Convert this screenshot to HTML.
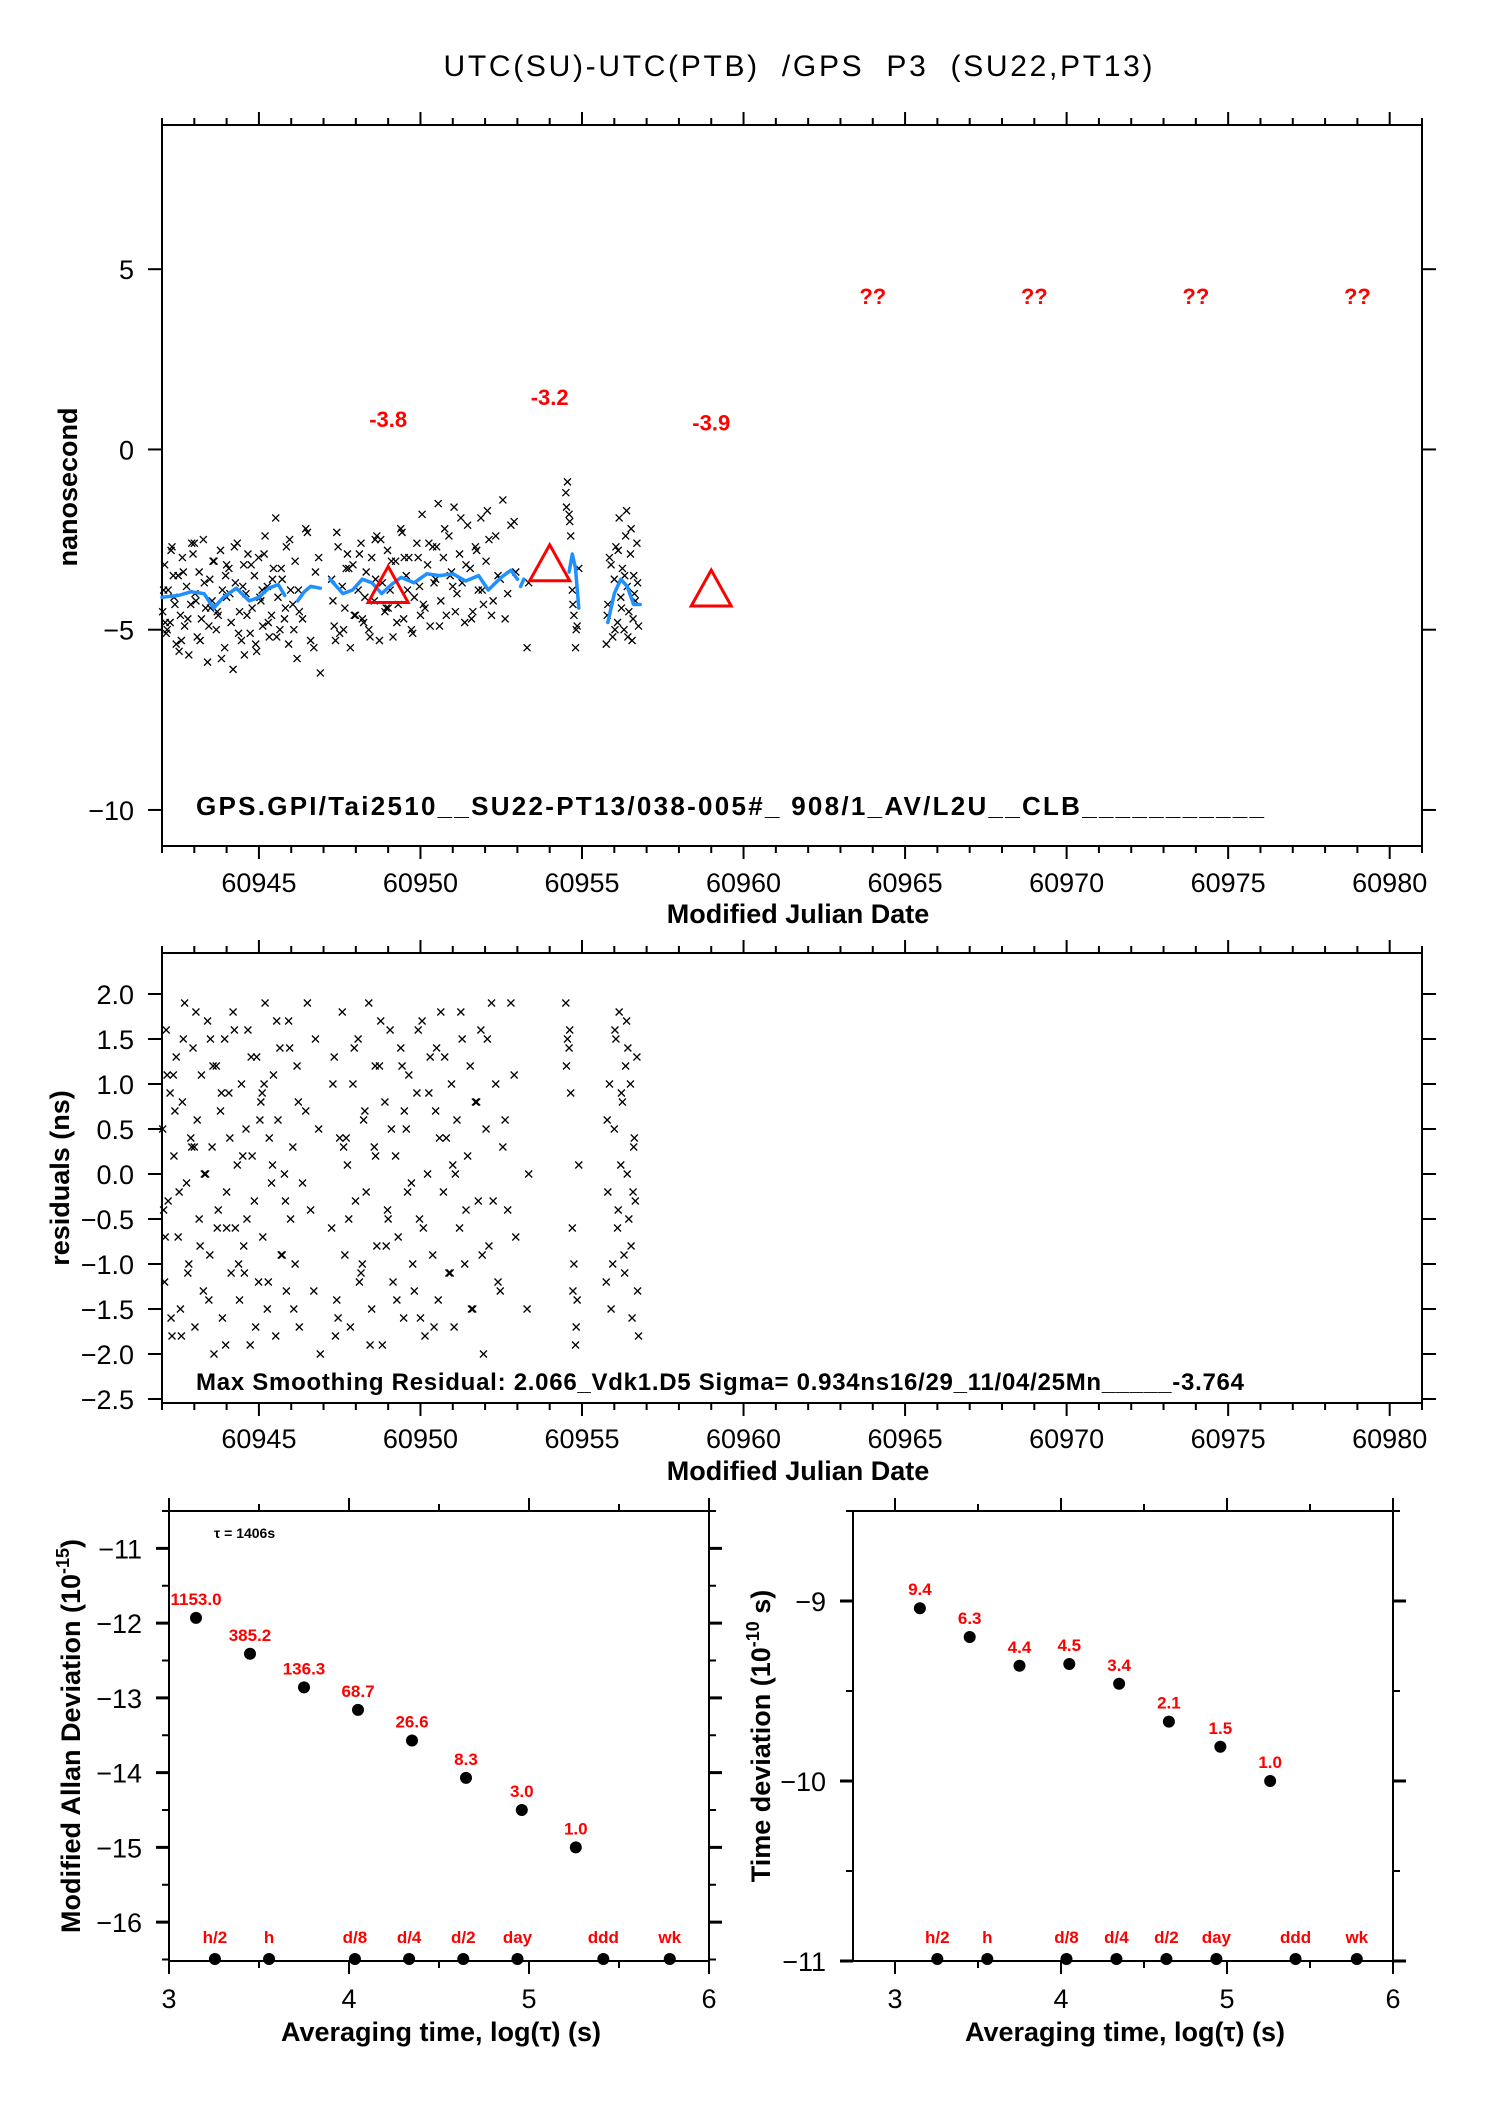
<!DOCTYPE html>
<html><head><meta charset="utf-8"><style>
html,body{margin:0;padding:0;background:#fff;}
svg{display:block;font-family:"Liberation Sans",sans-serif;}
</style></head><body>
<svg id="chart" width="1488" height="2105" viewBox="0 0 1488 2105" xmlns="http://www.w3.org/2000/svg">
<rect width="1488" height="2105" fill="#fff"/>
<text x="798" y="76" font-size="30" text-anchor="middle" textLength="709" xml:space="preserve">UTC(SU)-UTC(PTB)  /GPS  P3  (SU22,PT13)</text>
<g id="g-top"></g>
<g id="g-mid"></g>
<g id="g-adev"></g>
<g id="g-tdev"></g>
</svg>
<script>
// ---- data (MJD offsets from 60940) ----
const mjdBase = 60940;
const obsDays = [2.02,2.08,2.13,2.19,2.25,2.31,2.37,2.44,2.5,2.57,2.63,2.7,2.76,2.83,2.89,2.96,3.02,3.09,3.15,3.22,3.28,3.35,3.41,3.48,3.55,3.61,3.68,3.74,3.81,3.87,3.94,4.0,4.07,4.14,4.2,4.27,4.33,4.4,4.46,4.53,4.6,4.66,4.73,4.79,4.86,4.93,4.99,5.06,5.12,5.19,5.26,5.32,5.39,5.45,5.52,5.59,5.65,5.72,5.79,5.85,5.92,5.98,6.05,6.12,6.18,6.25,6.45,6.6,6.75,6.9,
7.25,7.33,7.41,7.5,7.58,7.66,7.74,7.83,7.91,7.99,8.07,8.16,8.24,8.32,8.4,8.49,8.57,8.65,8.73,8.82,8.9,8.98,9.06,9.15,9.23,9.31,9.39,9.48,9.56,9.64,9.72,9.81,9.89,9.97,10.05,10.14,10.22,10.3,10.38,10.47,10.55,10.63,10.71,10.8,10.88,10.96,11.04,11.13,11.21,11.29,11.37,11.46,11.54,11.62,11.7,11.79,11.87,11.95,12.03,12.12,12.2,12.4,12.55,12.7,12.9,
13.3,13.35,14.5,14.55,14.6,14.65,14.7,14.75,14.8,14.85,14.9,
15.75,15.8,15.85,15.95,16.0,16.05,16.1,16.15,16.2,16.25,16.3,16.35,16.4,16.45,16.5,16.55,16.6,16.65,16.7,16.75,
2.05,2.16,2.28,2.4,2.53,2.66,2.8,2.92,3.05,3.18,3.31,3.45,3.58,3.71,3.84,3.97,4.1,4.24,4.37,4.5,4.63,4.76,4.9,5.03,5.16,5.29,5.42,5.55,5.69,5.82,5.95,6.08,6.22,6.35,6.5,6.7,6.85,2.1,2.35,2.6,3.0,3.5,4.0,4.55,5.1,
7.29,7.45,7.62,7.78,7.95,8.11,8.28,8.44,8.61,8.77,8.94,9.1,9.27,9.43,9.6,9.76,9.93,10.09,10.26,10.42,10.59,10.75,10.92,11.08,11.25,11.41,11.58,11.74,11.91,12.07,12.25,12.33,12.47,12.62,12.8,12.95,7.37,7.7,8.2,8.6,9.0,9.5,10.0,10.5,11.0,
15.78,15.9,16.02,16.12,16.22,16.32,16.42,16.52,16.62,16.72,16.38,16.58,
14.52,14.62,14.72,14.82];
const obsNs = [-4.5,-3.2,-5.1,-3.9,-4.8,-2.7,-4.1,-5.4,-3.5,-4.6,-3.0,-4.9,-3.8,-5.7,-4.3,-2.9,-4.0,-5.2,-3.4,-4.7,-2.5,-4.4,-5.9,-3.6,-4.2,-3.1,-5.0,-4.6,-2.8,-3.9,-5.5,-4.1,-3.3,-4.8,-6.1,-3.7,-2.6,-4.5,-5.3,-3.2,-4.0,-2.9,-5.1,-4.4,-3.5,-5.6,-3.0,-4.2,-4.9,-2.4,-3.8,-5.2,-4.6,-3.3,-1.9,-4.1,-5.0,-3.6,-4.7,-2.7,-5.4,-3.9,-4.3,-3.1,-5.8,-4.5,-2.2,-5.3,-3.4,-6.2,
-3.6,-4.9,-2.3,-5.1,-3.8,-4.4,-2.9,-5.5,-3.2,-4.6,-3.9,-2.6,-4.8,-3.4,-5.0,-3.0,-4.2,-2.4,-5.3,-3.7,-4.5,-2.8,-3.9,-5.2,-3.1,-4.3,-2.2,-4.7,-3.5,-3.0,-5.0,-4.1,-2.6,-3.8,-1.8,-4.4,-3.2,-4.9,-2.7,-3.6,-1.5,-4.2,-3.0,-4.6,-2.4,-3.4,-1.6,-4.0,-2.9,-3.7,-4.8,-2.1,-3.3,-4.5,-2.7,-3.9,-1.9,-4.3,-3.1,-2.5,-4.6,-3.5,-1.4,-4.0,-2.0,
-5.5,-3.7,-1.2,-0.9,-1.8,-2.4,-3.9,-4.6,-5.5,-4.9,-3.3,
-5.4,-4.3,-3.0,-5.2,-3.6,-2.7,-4.8,-1.9,-4.1,-3.3,-5.0,-2.4,-3.8,-4.5,-2.9,-5.3,-3.5,-4.2,-2.6,-4.9,
-3.9,-5.0,-2.8,-4.3,-5.6,-3.4,-4.7,-2.6,-4.2,-5.3,-3.7,-4.9,-3.1,-4.5,-5.8,-3.5,-4.0,-2.7,-5.1,-3.8,-4.6,-3.2,-5.4,-4.1,-2.9,-4.8,-3.6,-5.2,-3.3,-4.4,-2.5,-5.0,-3.9,-4.7,-2.3,-5.5,-3.0,-4.8,-3.5,-5.3,-2.6,-4.4,-3.2,-5.7,-3.9,
-4.2,-2.7,-5.0,-3.3,-4.6,-2.9,-4.1,-5.2,-3.6,-2.5,-4.4,-3.1,-4.8,-2.3,-3.9,-5.1,-3.0,-4.3,-2.6,-3.7,-4.9,-2.2,-3.5,-4.5,-1.9,-3.2,-4.7,-2.8,-3.9,-1.7,-4.2,-2.4,-3.6,-4.7,-2.1,-3.4,-5.3,-3.3,-4.7,-2.5,-4.4,-3.0,-4.6,-2.7,-3.8,
-4.6,-3.2,-5.0,-2.8,-4.4,-3.5,-5.2,-2.2,-4.0,-3.7,-1.7,-4.7,
-1.6,-2.0,-4.3,-5.0];
const residNs = [0.5,-1.2,1.6,-0.3,0.9,-1.8,0.2,1.3,-0.7,-1.5,0.8,1.9,-0.1,-1.0,0.4,1.4,-1.7,0.6,-0.5,1.1,-1.3,0.0,1.7,-0.9,0.3,-2.0,1.2,-0.4,0.7,-1.6,1.5,-0.2,0.9,-1.1,1.8,-0.6,0.1,-1.4,1.0,-0.8,0.5,1.6,-1.9,0.2,-0.3,1.3,-1.2,0.8,-0.7,1.9,-1.5,0.4,-0.1,1.1,-1.8,0.6,1.4,-0.9,0.0,-1.3,1.7,-0.5,0.3,-1.0,1.2,-1.7,0.7,-0.4,1.5,-2.0,
-0.6,1.3,-1.4,0.4,1.8,-0.9,0.1,-1.7,1.0,-0.3,1.5,-1.1,0.6,-0.2,1.9,-1.5,0.3,-0.8,1.2,-1.9,0.8,-0.4,1.6,-1.2,0.2,-0.7,1.4,-1.6,0.5,1.1,-0.1,-1.3,0.9,-0.5,1.7,-1.8,0.0,1.3,-0.9,0.7,-1.4,1.8,-0.2,0.4,-1.1,1.0,-1.7,0.6,-0.6,1.5,-1.0,0.2,1.2,-1.5,0.8,-0.3,1.6,-2.0,0.5,-0.8,1.9,-1.2,0.3,-0.4,1.1,
-1.5,0.0,1.9,1.5,1.4,0.9,-0.6,-1.0,-1.9,-1.4,0.1,
-1.2,-0.2,1.0,-1.0,0.5,1.5,-0.6,1.8,0.1,0.8,-0.9,1.2,0.0,-0.5,1.0,-1.6,0.3,-0.3,1.3,-1.8,
-0.4,1.1,-1.6,0.7,-0.2,1.5,-1.1,0.3,1.8,-0.8,0.0,-1.4,1.2,-0.6,0.9,-1.9,0.4,1.6,-1.0,0.2,-0.5,1.3,-1.7,0.6,1.0,-1.2,0.1,1.7,-0.9,-0.3,1.4,-1.5,0.8,-0.1,1.9,-1.3,0.5,-0.7,1.1,-1.8,0.3,1.5,-0.6,-1.1,0.9,
1.0,-1.6,0.3,-0.5,1.4,-1.2,0.7,-1.9,0.2,1.7,-0.8,0.5,-1.4,1.2,-0.2,-1.0,1.6,-0.6,0.9,-1.7,0.4,1.3,-1.1,0.0,1.8,-0.4,-1.5,0.8,-0.9,1.5,-0.3,1.0,-1.3,0.6,1.9,-0.7,-1.8,0.4,-1.0,1.2,-0.5,0.7,-1.6,1.4,0.1,
0.6,-1.5,1.6,-0.4,0.9,-1.1,1.4,-0.8,0.4,-1.3,1.7,-0.2,
1.2,1.6,-1.3,-1.7];
const smoothDays = [2.0,2.5,2.9,3.3,3.6,3.9,4.3,4.7,5.0,5.3,5.6,5.8,null,6.2,6.4,6.6,6.9,null,7.2,7.6,7.9,8.2,8.5,8.8,9.1,9.4,9.8,10.2,10.6,11.0,11.4,11.8,12.1,12.5,12.8,13.0,null,13.1,13.2,null,14.6,14.7,14.8,14.9,null,15.8,16.0,16.2,16.4,16.6,16.8];
const smoothNs = [-4.1,-4.05,-3.95,-4.0,-4.4,-4.1,-3.85,-4.2,-4.1,-3.85,-3.75,-4.05,null,-4.2,-3.95,-3.8,-3.85,null,-3.6,-4.0,-3.9,-3.6,-3.7,-4.0,-3.75,-3.55,-3.7,-3.45,-3.5,-3.45,-3.65,-3.5,-3.9,-3.55,-3.35,-3.6,null,-3.8,-3.6,null,-3.4,-2.9,-3.3,-4.4,null,-4.8,-4.0,-3.6,-3.8,-4.3,-4.3];
const triDays = [9, 14, 19];
const triNs = [-3.8, -3.2, -3.9];
const triLabels = ["-3.8", "-3.2", "-3.9"];
const unkDays = [24, 29, 34, 39];
const unkLabels = ["??", "??", "??", "??"];
const xTickLabels = ["60945","60950","60955","60960","60965","60970","60975","60980"];
const topYTicks = [5, 0, -5, -10];
const midYTicks = [2.0,1.5,1.0,0.5,0.0,-0.5,-1.0,-1.5,-2.0,-2.5];
// stability
const logTau = [3.15,3.45,3.75,4.05,4.35,4.65,4.96,5.26];
const adevLog = [-11.93,-12.41,-12.86,-13.16,-13.57,-14.07,-14.5,-15.0];
const adevLabels = ["1153.0","385.2","136.3","68.7","26.6","8.3","3.0","1.0"];
const tdevLog = [-9.04,-9.2,-9.36,-9.35,-9.46,-9.67,-9.81,-10.0];
const tdevLabels = ["9.4","6.3","4.4","4.5","3.4","2.1","1.5","1.0"];
const markLog = [3.255,3.556,4.033,4.334,4.635,4.936,5.413,5.782];
const markLabels = ["h/2","h","d/8","d/4","d/2","day","ddd","wk"];
const adevYTicks = [-11,-12,-13,-14,-15,-16];
const tdevYTicks = [-9,-10,-11];
const logXTicks = [3,4,5,6];

const NS = "http://www.w3.org/2000/svg";
function mk(parent, tag, attrs, text) {
  const e = document.createElementNS(NS, tag);
  for (const k in attrs) e.setAttribute(k, attrs[k]);
  if (text !== undefined) e.textContent = text;
  parent.appendChild(e);
  return e;
}
function lin(d0, d1, p0, p1) { return v => p0 + (v - d0) * (p1 - p0) / (d1 - d0); }

function frame(g, L, T, R, B) {
  const r = mk(g, 'rect', {x: L, y: T, width: R - L, height: B - T, fill: 'none', stroke: '#000', 'stroke-width': 2});
  
  
}
function tick(g, x1, y1, x2, y2, w) {
  mk(g, 'line', {x1, y1, x2, y2, stroke: '#000', 'stroke-width': w || 2});
}

// ---------- top panel ----------
(function () {
  const g = document.getElementById('g-top');
  const L = 162, R = 1422, T = 125, B = 846;
  const X = lin(60942, 60981, L, R), Y = lin(9, -11, T, B);
  frame(g, L, T, R, B);
  for (let d = 60942; d <= 60981; d++) {
    const maj = d % 5 === 0;
    tick(g, X(d), T, X(d), T - (maj ? 13 : 7));
    tick(g, X(d), B, X(d), B + (maj ? 13 : 7));
  }
  xTickLabels.forEach(s => {
    const t = mk(g, 'text', {x: X(+s), y: 892, 'font-size': 27, 'text-anchor': 'middle'}, s);
    
    
  });
  topYTicks.forEach(v => {
    tick(g, L - 14, Y(v), L, Y(v));
    tick(g, R, Y(v), R + 14, Y(v));
    const t = mk(g, 'text', {x: 134, y: Y(v) + 10, 'font-size': 27, 'text-anchor': 'end'}, v < 0 ? '\u2212' + (-v) : String(v));
    
    
  });
  const xt = mk(g, 'text', {x: 798, y: 923, 'font-size': 27, 'font-weight': 'bold', 'text-anchor': 'middle'}, 'Modified Julian Date');
  
  
  const yt = mk(g, 'text', {x: 0, y: 0, 'font-size': 27, 'font-weight': 'bold', 'text-anchor': 'middle', transform: 'translate(77,487) rotate(-90)'}, 'nanosecond');
  
  
  const sc = mk(g, 'g', {stroke: '#000', 'stroke-width': 1.3});
  
  
  obsDays.forEach((d, i) => {
    const x = X(mjdBase + d), y = Y(obsNs[i]), s = 3.5;
    mk(sc, 'path', {d: `M${x - s},${y - s}L${x + s},${y + s}M${x - s},${y + s}L${x + s},${y - s}`});
  });
  let seg = [];
  const segs = [];
  smoothDays.forEach((d, i) => {
    if (d === null) { if (seg.length) segs.push(seg); seg = []; }
    else seg.push(X(mjdBase + d).toFixed(1) + ',' + Y(smoothNs[i]).toFixed(1));
  });
  if (seg.length) segs.push(seg);
  segs.forEach(s => {
    const p = mk(g, 'polyline', {points: s.join(' '), fill: 'none', stroke: '#1e90ff', 'stroke-width': 3.5, 'stroke-linejoin': 'round', 'stroke-linecap': 'round'});
    
    
  });
  triDays.forEach((d, i) => {
    const x = X(mjdBase + d), y = Y(triNs[i]);
    const p = mk(g, 'polygon', {points: `${x},${y - 20} ${x - 20},${y + 16} ${x + 20},${y + 16}`, fill: 'none', stroke: '#f00', 'stroke-width': 3});
    
    
    const t = mk(g, 'text', {x, y: Y(triNs[i] + 4.65) + 8, 'font-size': 22, 'font-weight': 'bold', fill: '#f00', 'text-anchor': 'middle'}, triLabels[i]);
    
    
  });
  unkDays.forEach((d, i) => {
    const t = mk(g, 'text', {x: X(mjdBase + d), y: Y(4.25) + 8, 'font-size': 22, 'font-weight': 'bold', fill: '#f00', 'text-anchor': 'middle'}, unkLabels[i]);
    
    
  });
  const info = mk(g, 'text', {x: 196, y: 815, 'font-size': 26, 'font-weight': 'bold', textLength: 1068, 'xml:space': 'preserve'}, 'GPS.GPI/Tai2510__SU22-PT13/038-005#_  908/1_AV/L2U__CLB___________');
  
  
})();

// ---------- residuals panel ----------
(function () {
  const g = document.getElementById('g-mid');
  const L = 162, R = 1422, T = 953, B = 1403;
  const X = lin(60942, 60981, L, R), Y = lin(2.0, -2.5, 994, 1399);
  frame(g, L, T, R, B);
  for (let d = 60942; d <= 60981; d++) {
    const maj = d % 5 === 0;
    tick(g, X(d), T, X(d), T - (maj ? 13 : 7));
    tick(g, X(d), B, X(d), B + (maj ? 13 : 7));
  }
  xTickLabels.forEach(s => {
    const t = mk(g, 'text', {x: X(+s), y: 1448, 'font-size': 27, 'text-anchor': 'middle'}, s);
    
    
  });
  midYTicks.forEach(v => {
    tick(g, L - 14, Y(v), L, Y(v));
    tick(g, R, Y(v), R + 14, Y(v));
    const s = (v < 0 ? '\u2212' : '') + Math.abs(v).toFixed(1);
    const t = mk(g, 'text', {x: 134, y: Y(v) + 10, 'font-size': 27, 'text-anchor': 'end'}, s);
    
    
  });
  const xt = mk(g, 'text', {x: 798, y: 1480, 'font-size': 27, 'font-weight': 'bold', 'text-anchor': 'middle'}, 'Modified Julian Date');
  
  
  const yt = mk(g, 'text', {x: 0, y: 0, 'font-size': 27, 'font-weight': 'bold', 'text-anchor': 'middle', transform: 'translate(69,1178) rotate(-90)'}, 'residuals (ns)');
  
  
  const sc = mk(g, 'g', {stroke: '#000', 'stroke-width': 1.3});
  
  
  obsDays.forEach((d, i) => {
    const x = X(mjdBase + d), y = Y(residNs[i]), s = 3.5;
    mk(sc, 'path', {d: `M${x - s},${y - s}L${x + s},${y + s}M${x - s},${y + s}L${x + s},${y - s}`});
  });
  const info = mk(g, 'text', {x: 196, y: 1390, 'font-size': 24, 'font-weight': 'bold', textLength: 1048, 'xml:space': 'preserve'}, 'Max Smoothing Residual: 2.066_Vdk1.D5  Sigma= 0.934ns16/29_11/04/25Mn_____-3.764');
  
  
})();

// ---------- stability panels ----------
function stabPanel(gid, L, R, xL, Y0, Y1, yTicks, yMinor, vals, labels, titleX, titleMain, titleSup, titleTail, labX, tauNote) {
  const g = document.getElementById(gid);
  const T = 1511, B = 1961;
  const X = lin(3, 6, xL, R), Y = lin(Y0, Y1, T, B);
  frame(g, L, T, R, B);
  [3, 3.5, 4, 4.5, 5, 5.5, 6].forEach(v => {
    const maj = Number.isInteger(v);
    tick(g, X(v), T, X(v), T - (maj ? 13 : 7));
    tick(g, X(v), B, X(v), B + (maj ? 13 : 7));
  });
  logXTicks.forEach(v => {
    const t = mk(g, 'text', {x: X(v), y: 2008, 'font-size': 27, 'text-anchor': 'middle'}, String(v));
    
    
  });
  yMinor.forEach(v => { tick(g, L - 7, Y(v), L, Y(v)); tick(g, R, Y(v), R + 7, Y(v)); });
  yTicks.forEach(v => {
    tick(g, L - 13, Y(v), L, Y(v), 3);
    tick(g, R, Y(v), R + 13, Y(v), 3);
    const t = mk(g, 'text', {x: labX, y: Y(v) + 10, 'font-size': 27, 'text-anchor': 'end'}, '\u2212' + (-v));
    
    
  });
  const xt = mk(g, 'text', {x: (L + R) / 2 + 2, y: 2041, 'font-size': 27, 'font-weight': 'bold', 'text-anchor': 'middle'}, 'Averaging time, log(\u03c4) (s)');
  
  
  const yt = mk(g, 'text', {x: 0, y: 0, 'font-size': 27, 'font-weight': 'bold', 'text-anchor': 'middle', transform: `translate(${titleX},1736) rotate(-90)`});
  
  
  mk(yt, 'tspan', {}, titleMain);
  mk(yt, 'tspan', {'font-size': 18, dy: -11}, titleSup);
  mk(yt, 'tspan', {dy: 11}, titleTail);
  logTau.forEach((lt, i) => {
    const c = mk(g, 'circle', {cx: X(lt), cy: Y(vals[i]), r: 6, fill: '#000'});
    
    
    const t = mk(g, 'text', {x: X(lt), y: Y(vals[i]) - 13, 'font-size': 17, 'font-weight': 'bold', fill: '#f00', 'text-anchor': 'middle'}, labels[i]);
    
    
  });
  markLog.forEach((lt, i) => {
    const c = mk(g, 'circle', {cx: X(lt), cy: B - 2, r: 6, fill: '#000'});
    
    
    const t = mk(g, 'text', {x: X(lt), y: 1943, 'font-size': 17, 'font-weight': 'bold', fill: '#f00', 'text-anchor': 'middle'}, markLabels[i]);
    
    
  });
  if (tauNote) {
    const t = mk(g, 'text', {x: 214, y: 1538, 'font-size': 14, 'font-weight': 'bold'}, '\u03c4 = 1406s');
    
    
  }
}
stabPanel('g-adev', 169, 709, 169, -10.5, -16.52, adevYTicks, [-10.5,-11.5,-12.5,-13.5,-14.5,-15.5,-16.5], adevLog, adevLabels, 80, 'Modified Allan Deviation (10', '-15', ')', 142, true);
stabPanel('g-tdev', 853, 1393, 895, -8.5, -11, tdevYTicks, [-8.5,-9.5,-10.5], tdevLog, tdevLabels, 770, 'Time deviation (10', '-10', ' s)', 826, false);
</script>
</body></html>
